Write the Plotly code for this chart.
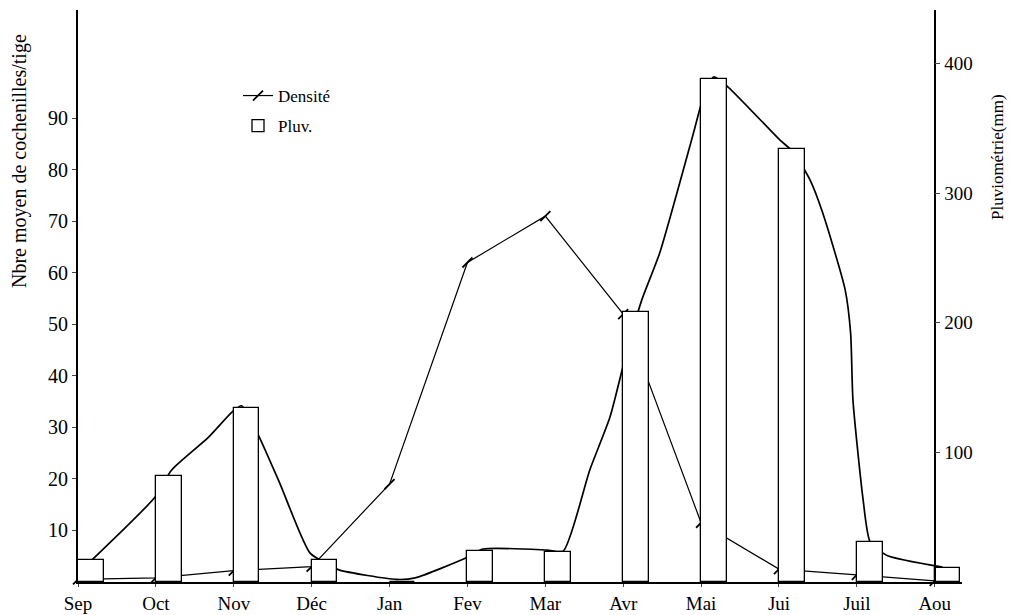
import plotly.graph_objects as go

months = ["Sep", "Oct", "Nov", "Déc", "Jan", "Fev", "Mar", "Avr", "Mai", "Jui", "Juil", "Aou"]
month_pos = list(range(len(months)))

# Densité (nbre moyen de cochenilles/tige)
densite = [0.5, 0.8, 2.2, 3.0, 19, 62, 71, 52, 11.5, 2.5, 1.4, 0.2]

# Pluviométrie (mm)
pluv = [17, 82, 134, 17, 0, 24, 23, 208, 388, 334, 31, 11]

# smooth curve drawn through the rainfall (left-axis units)
curve_x = [0.18, 0.99, 1.2, 1.67, 1.98, 2.1, 2.3, 2.59, 2.98, 3.23, 3.36, 4.09, 4.33,
           5.0, 5.2, 6.02, 6.23, 6.57, 6.83, 7.05, 7.24, 7.47, 7.9, 8.02, 8.16, 8.35,
           9.01, 9.18, 9.4, 9.56, 9.85, 9.92, 9.95, 10.08, 10.17, 10.38, 11.1]
curve_y = [4.3, 16.5, 21.7, 28, 33, 34.2, 29, 19.2, 5.6, 3.3, 2.3, 0.5, 0.8,
           4.8, 6.4, 6.2, 6.0, 21.7, 32, 45, 54.8, 63.9, 87, 93.6, 98, 96,
           85.8, 83.5, 78, 71.7, 56.7, 48.3, 35.3, 16, 7.8, 5.2, 2.9]

left_ticks = [10, 20, 30, 40, 50, 60, 70, 80, 90]
right_ticks = [100, 200, 300, 400]

left_title = "Nbre moyen de cochenilles/tige"
right_title = "Pluviométrie(mm)"

FONT = "Liberation Serif, Times New Roman, serif"
X_MAX = 11.35
L, R, T, B = 78, 52, 10, 33
W, H = 1014, 615
plot_w = W - L - R
plot_h = H - T - B


def px_x(p):
    return (p - L) / plot_w


def px_y(p):
    return 1 - (p - T) / plot_h


fig = go.Figure()

fig.add_trace(go.Bar(
    x=month_pos, y=pluv, name="Pluv.", yaxis="y2", legendgroup="pluv", legendrank=2,
    offset=0, width=0.33,
    marker=dict(color="white", line=dict(color="black", width=1.3)),
))

fig.add_trace(go.Scatter(
    x=curve_x, y=curve_y, mode="lines",
    line=dict(color="black", width=1.7, shape="spline", smoothing=0.6),
    showlegend=False, hoverinfo="skip", cliponaxis=False,
))

fig.add_trace(go.Scatter(
    x=month_pos, y=densite, mode="lines+markers", name="Densité", legendgroup="dens", legendrank=1,
    line=dict(color="black", width=1.2),
    marker=dict(symbol="line-ne", size=10, color="black", line=dict(color="black", width=1.8)),
    cliponaxis=False,
))

fig.update_layout(
    width=W, height=H,
    margin=dict(l=L, r=R, t=T, b=B, autoexpand=False),
    paper_bgcolor="white", plot_bgcolor="white",
    font=dict(family=FONT, size=16, color="black"),
    showlegend=True,
    legend=dict(x=px_x(238), y=px_y(78), xanchor="left", yanchor="top",
                bgcolor="rgba(0,0,0,0)", font=dict(size=17, family=FONT), tracegroupgap=5,
                traceorder="grouped"),
    bargap=0,
    xaxis=dict(range=[0, X_MAX], tickvals=month_pos, ticktext=months, showgrid=False, zeroline=False,
               showline=True, linecolor="black", linewidth=1.5, ticks="outside", ticklen=3,
               tickfont=dict(size=19, family=FONT), automargin=False),
    yaxis=dict(range=[0, 111], tickvals=left_ticks, showgrid=False, zeroline=False,
               showline=True, linecolor="black", linewidth=2, ticks="outside", ticklen=4,
               tickfont=dict(size=20, family=FONT), automargin=False),
    yaxis2=dict(range=[0, 441.4], tickvals=right_ticks, overlaying="y", side="right",
                anchor="free", position=11 / X_MAX, showgrid=False, zeroline=False,
                showline=True, linecolor="black", linewidth=1.5, ticks="outside", ticklen=5,
                tickfont=dict(size=19, family=FONT), automargin=False),
    annotations=[
        dict(text=left_title, xref="paper", yref="paper", x=px_x(20), y=px_y(161),
             textangle=-90, showarrow=False, font=dict(size=20, family=FONT),
             xanchor="center", yanchor="middle"),
        dict(text=right_title, xref="paper", yref="paper", x=px_x(997), y=px_y(157),
             textangle=-90, showarrow=False, font=dict(size=17, family=FONT),
             xanchor="center", yanchor="middle"),
    ],
)

fig.write_html("out.html", config={"displayModeBar": False},
               post_script="document.body.style.margin='0';")
